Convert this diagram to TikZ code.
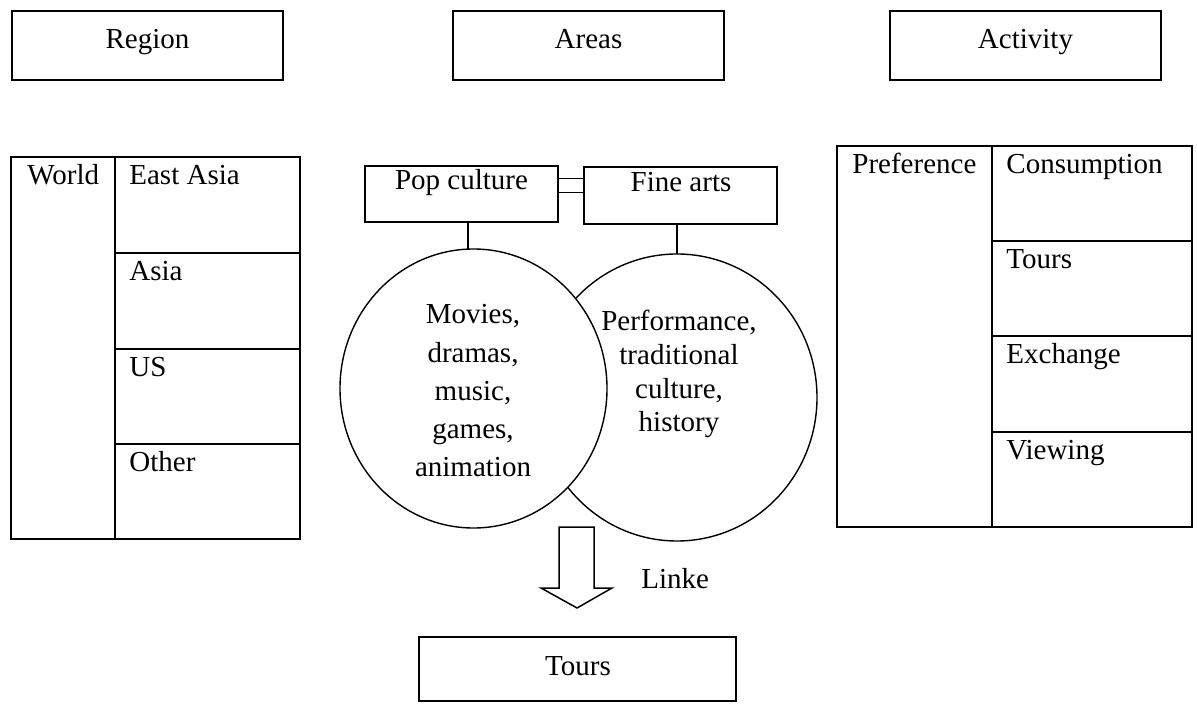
\documentclass[tikz,border=0pt]{standalone}
\usepackage{fontspec}
\setmainfont{Liberation Serif}
\usetikzlibrary{shapes.geometric}

\tikzset{
  headbox/.style={draw, line width=1pt, inner sep=0pt, outer sep=0pt},
  subbox/.style={draw, line width=0.75pt, inner sep=0pt, outer sep=0pt},
  ring/.style={draw, ellipse, line width=0.7pt, fill=white, inner sep=0pt, outer sep=0pt},
  txt/.style={inner sep=0pt, anchor=base, font=\fontsize{14.5}{17}\selectfont},
  ltxt/.style={txt, anchor=base west},
  grid/.style={line width=1pt}
}

\begin{document}
\begin{tikzpicture}[x=0.5pt, y=-0.5pt]

	\useasboundingbox (0,0) rectangle (1197,704);

	% heading boxes
	\node[headbox, minimum width=135.5pt, minimum height=34.5pt]   (region) at (147.5,45.5) {};
	\node[headbox, minimum width=135.5pt, minimum height=34.5pt]    (areas) at (588.5,45.5) {};
	\node[headbox, minimum width=135.5pt, minimum height=34.5pt] (activity) at (1025.5,45.5) {};
	\node[txt]   (region_t) at (147.5,49) {Region};
	\node[txt]    (areas_t) at (588.5,49) {Areas};
	\node[txt] (activity_t) at (1025.5,49) {Activity};

	% region table
	\draw[grid] (11,157.5) rectangle (300,539);
	\draw[grid] (115,157.5) -- (115,539);
	\foreach \y in {253,349,444} \draw[grid] (115,\y) -- (300,\y);
	\node[ltxt] (world) at (27,185) {World};
	\foreach \t/\y [count=\i] in {East Asia/185, Asia/280.5, US/376.5, Other/471.5}
		\node[ltxt] (reg\i) at (129,\y) {\t};

	% activity table
	\draw[grid] (837,146) rectangle (1192,527);
	\draw[grid] (992,146) -- (992,527);
	\foreach \y in {241,336,432} \draw[grid] (992,\y) -- (1192,\y);
	\node[ltxt] (pref) at (852,174) {Preference};
	\foreach \t/\y [count=\i] in {Consumption/174, Tours/269, Exchange/364, Viewing/460}
		\node[ltxt] (act\i) at (1006,\y) {\t};

	% areas
	\node[subbox, minimum width=96.5pt, minimum height=28pt]   (pop) at (461.5,194) {};
	\node[subbox, minimum width=96.5pt, minimum height=28.5pt] (fine) at (680.5,195.5) {};
	\node[txt] (pop_t)  at (461.5,190) {Pop culture};
	\node[txt] (fine_t) at (681,192) {Fine arts};

	\node[ring, minimum width=140pt, minimum height=143.5pt] (finec) at (677,397.5) {};
	\node[ring, minimum width=133.5pt, minimum height=139.5pt] (popc) at (473.5,388.5) {};

	\foreach \t/\y [count=\i] in {{Movies,}/324, {dramas,}/362.5, {music,}/401, {games,}/439, animation/477}
		\node[txt] (popl\i) at (473,\y) {\t};
	\foreach \t/\y [count=\i] in {{Performance,}/331, traditional/364.5, {culture,}/399, history/432}
		\node[txt] (finel\i) at (679,\y) {\t};

	% connectors
	\coordinate (popk) at (468,222);
	\draw[line width=0.7pt] (popk) -- (popk |- popc.north);
	\draw[line width=0.7pt] (finec.north |- fine.south) -- (finec.north);
	\draw[line width=0.7pt] ([yshift=7.75pt]pop.east) -- ([yshift=7.75pt]pop.east -| fine.west);
	\draw[line width=0.7pt] ([yshift=0.75pt]pop.east) -- ([yshift=0.75pt]pop.east -| fine.west);

	% link arrow
	\draw[line width=0.75pt, line join=miter]
		(559,527) -- (594,527) -- (594,588) -- (612,588) -- (577,608)
		-- (541,588) -- (559,588) -- cycle;
	\node[ltxt] (linke) at (641,588) {Linke};

	% tours
	\node[subbox, minimum width=158.5pt, minimum height=32pt] (tours) at (577.5,669) {};
	\node[txt] (tours_t) at (578,675) {Tours};

\end{tikzpicture}
\end{document}
